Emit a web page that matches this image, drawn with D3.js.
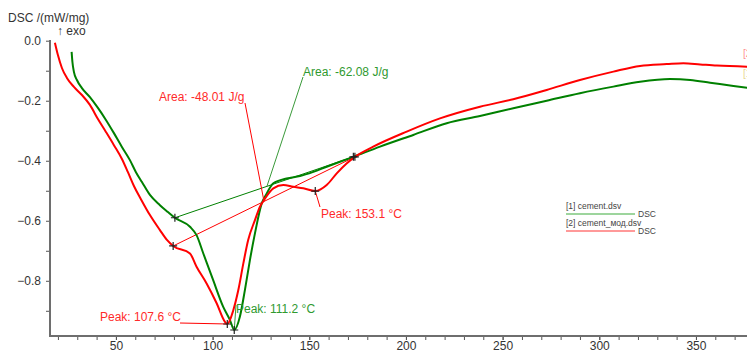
<!DOCTYPE html>
<html>
<head>
<meta charset="utf-8">
<script src="https://cdn.jsdelivr.net/npm/d3@7"></script>
<style>
  html, body { margin: 0; padding: 0; background: #fff; }
  svg { display: block; font-family: "Liberation Sans", Arial, sans-serif; }
</style>
</head>
<body>
<svg id="chart" width="747" height="354"></svg>
<script>
// DSC traces: temperature (°C) and heat flow (mW/mg)
const cementT = [27.08, 27.50, 28.27, 29.82, 32.41, 36.55, 40.69, 44.83, 48.97, 53.10, 57.24, 60.35, 63.45, 67.59, 72.76, 76.90, 80.5,
  88.3, 91.7, 95.2, 100.3, 105.5, 109.0, 111.2,
  114.1, 116.7, 119.3, 121.9, 125.4, 128.0, 131.4, 138.3, 145.2, 152.1, 159.0, 172.8, 186.6, 203.8, 221.1, 238.3,
  255.5, 272.8, 290.0, 307.3, 321.1, 336.6, 347.0, 357.3, 369.4, 378.0];
const cementDSC = [-0.037, -0.071, -0.104, -0.131, -0.158, -0.188, -0.224, -0.264, -0.308, -0.354, -0.398, -0.438, -0.471, -0.514, -0.548, -0.571, -0.590,
  -0.620, -0.648, -0.709, -0.798, -0.887, -0.931, -0.964,
  -0.920, -0.831, -0.731, -0.642, -0.542, -0.509, -0.475, -0.459, -0.451, -0.437, -0.420, -0.387, -0.353, -0.314, -0.275, -0.251,
  -0.225, -0.200, -0.175, -0.153, -0.137, -0.128, -0.131, -0.140, -0.151, -0.158];

const modT = [18.44, 19.99, 22.06, 24.65, 28.27, 32.41, 36.55, 40.69, 44.83, 48.97, 53.10, 56.21, 59.31, 62.93, 67.59, 72.76, 76.38, 79.6,
  88.3, 91.7, 96.9, 102.1, 106.4, 107.6,
  110.7, 113.3, 115.9, 118.4, 121.9, 124.5, 126.6, 131.4, 136.6, 141.7, 146.9, 153.1, 159.0, 164.2, 169.3, 173.6,
  183.1, 200.4, 217.6, 238.3, 255.5, 272.8, 290.0, 307.3, 321.1, 334.9, 343.5, 352.2, 360.8, 378.0];
const modDSC = [-0.007, -0.048, -0.091, -0.124, -0.154, -0.181, -0.214, -0.261, -0.304, -0.348, -0.394, -0.438, -0.484, -0.528, -0.581, -0.631, -0.664, -0.684,
  -0.709, -0.753, -0.809, -0.875, -0.937, -0.944,
  -0.898, -0.831, -0.742, -0.664, -0.598, -0.553, -0.531, -0.492, -0.481, -0.487, -0.492, -0.501, -0.481, -0.442, -0.409, -0.387,
  -0.353, -0.303, -0.259, -0.220, -0.195, -0.164, -0.131, -0.103, -0.084, -0.078, -0.075, -0.079, -0.083, -0.087];

// Integration limits [T, DSC] for the peak areas
const cementLimits = [[80.5, -0.590], [172.8, -0.387]];
const modLimits = [[79.6, -0.684], [173.6, -0.387]];

// Peak points [T, DSC]
const cementPeaks = [[111.2, -0.964]];
const modPeaks = [[107.6, -0.944], [153.1, -0.501]];

// Axis ticks
const xMajorTicks = [50, 100, 150, 200, 250, 300, 350];
const xMinorTicks = d3.range(20, 380, 10);
const yMajorTicks = [0.0, -0.2, -0.4, -0.6, -0.8];
const yMinorTicks = [-0.1, -0.3, -0.5, -0.7, -0.9];

const legendNames = ["[1] cement.dsv", "[2] cement_мод.dsv"];

const GREEN = "#008000", RED = "#ff0000";
const GREEN_TXT = "#2f9a2f", RED_TXT = "#ff2a2a";

const svg = d3.select("#chart");
const x = d3.scaleLinear().domain([15.9, 376.4]).range([50, 747]);
const y = d3.scaleLinear().domain([0, -0.984]).range([40.7, 336]);

// axes
const axisColor = "#6e6e6e";
const gx = svg.append("g").attr("transform", "translate(0,336)");
gx.call(d3.axisBottom(x).tickValues(xMinorTicks).tickSize(4).tickFormat(""));
gx.selectAll(".tick line").attr("stroke", "#555");
const gxl = svg.append("g").attr("transform", "translate(0,336)")
  .call(d3.axisBottom(x).tickValues(xMajorTicks).tickSize(4).tickPadding(1).tickFormat(d3.format("d")));
gxl.selectAll(".tick line").attr("stroke", "#555");
gxl.selectAll(".tick text").attr("fill", "#333").attr("font-size", 12).attr("font-family", "Liberation Sans, Arial, sans-serif");
[gx, gxl].forEach(g => g.select(".domain").remove());
svg.append("line").attr("x1", 49).attr("x2", 747).attr("y1", 336).attr("y2", 336)
  .attr("stroke", axisColor).attr("stroke-width", 2);

const gy = svg.append("g").attr("transform", "translate(50,0)");
gy.call(d3.axisLeft(y).tickValues(yMinorTicks).tickSize(4).tickFormat(""));
gy.selectAll(".tick line").attr("stroke", "#555");
const gyl = svg.append("g").attr("transform", "translate(50,0)")
  .call(d3.axisLeft(y).tickValues(yMajorTicks).tickSize(4).tickPadding(5).tickFormat(d3.format(".1f")));
gyl.selectAll(".tick line").attr("stroke", "#555");
gyl.selectAll(".tick text").attr("fill", "#333").attr("font-size", 12).attr("font-family", "Liberation Sans, Arial, sans-serif");
[gy, gyl].forEach(g => g.select(".domain").remove());
svg.append("line").attr("x1", 50).attr("x2", 50).attr("y1", 40).attr("y2", 337)
  .attr("stroke", axisColor).attr("stroke-width", 2);

// axis title
svg.append("text").attr("x", 8).attr("y", 22).attr("font-size", 12).attr("fill", "#333").text("DSC /(mW/mg)");
svg.append("text").attr("x", 57).attr("y", 35).attr("font-size", 12).attr("fill", "#333").text("↑ exo");

// baselines of integration
const straight = d3.line().x(d => x(d[0])).y(d => y(d[1]));
svg.append("path").attr("d", straight(cementLimits)).attr("fill", "none").attr("stroke", GREEN).attr("stroke-width", 1);
svg.append("path").attr("d", straight(modLimits)).attr("fill", "none").attr("stroke", RED).attr("stroke-width", 1);

// curves
const curve = d3.line().x(d => x(d[0])).y(d => y(d[1])).curve(d3.curveMonotoneX);
svg.append("path").datum(d3.zip(cementT, cementDSC)).attr("d", curve)
  .attr("fill", "none").attr("stroke", GREEN).attr("stroke-width", 2);
svg.append("path").datum(d3.zip(modT, modDSC)).attr("d", curve)
  .attr("fill", "none").attr("stroke", RED).attr("stroke-width", 2);

// point on a baseline at a given temperature
function onBaseline(lim, t) {
  const f = (t - lim[0][0]) / (lim[1][0] - lim[0][0]);
  return [t, lim[0][1] + f * (lim[1][1] - lim[0][1])];
}

// annotation connectors and labels
function connector(p1, p2, color) {
  svg.append("line").attr("x1", p1[0]).attr("y1", p1[1]).attr("x2", p2[0]).attr("y2", p2[1])
    .attr("stroke", color).attr("stroke-width", 1);
}
function label(px, py, txt, color) {
  svg.append("text").attr("x", px).attr("y", py).attr("font-size", 12).attr("fill", color).text(txt);
}
const P = d => [x(d[0]), y(d[1])];

// Area labels
const gArea = onBaseline(cementLimits, 128.1);
connector([303, 77], P(gArea), "#3a9a3a");
label(303, 76, "Area: -62.08 J/g", GREEN_TXT);
const rArea = onBaseline(modLimits, 126.6);
connector([245, 103], P(rArea), RED);
label(159, 101, "Area: -48.01 J/g", RED_TXT);

// Peak labels
connector(P(modPeaks[1]), [320, 207], RED);
label(321, 218, "Peak: " + modPeaks[1][0].toFixed(1) + " °C", RED_TXT);
connector([180, 323], P(modPeaks[0]), RED);
label(100, 321, "Peak: " + modPeaks[0][0].toFixed(1) + " °C", RED_TXT);
connector(P(cementPeaks[0]), [236, 305], "#3a9a3a");
label(236, 313, "Peak: " + cementPeaks[0][0].toFixed(1) + " °C", GREEN_TXT);

// cross markers
const marks = [...cementLimits, ...cementPeaks, ...modLimits, ...modPeaks];
svg.selectAll(".mark").data(marks).enter().append("path").attr("class", "mark")
  .attr("d", d => { const [cx, cy] = P(d); return `M${cx - 4},${cy}H${cx + 4}M${cx},${cy - 4}V${cy + 4}`; })
  .attr("stroke", "#222").attr("stroke-width", 1.2);

// legend
const lg = svg.append("g").attr("font-size", 8.5).attr("fill", "#444");
[[GREEN, "#7cc77c"], [RED, "#f77"]].forEach((c, i) => {
  const yy = 209 + i * 17;
  lg.append("text").attr("x", 566).attr("y", yy).text(legendNames[i]);
  lg.append("line").attr("x1", 566).attr("x2", 635).attr("y1", yy + 5).attr("y2", yy + 5)
    .attr("stroke", c[1]).attr("stroke-width", 1.5);
  lg.append("text").attr("x", 638).attr("y", yy + 8).text("DSC");
});

// curve tags at the right edge
svg.append("text").attr("x", 743).attr("y", 57).attr("font-size", 10).attr("fill", "#ff9090").text("[2]");
svg.append("text").attr("x", 743).attr("y", 77).attr("font-size", 10).attr("fill", "#e8d890").text("[1]");
</script>
</body>
</html>
